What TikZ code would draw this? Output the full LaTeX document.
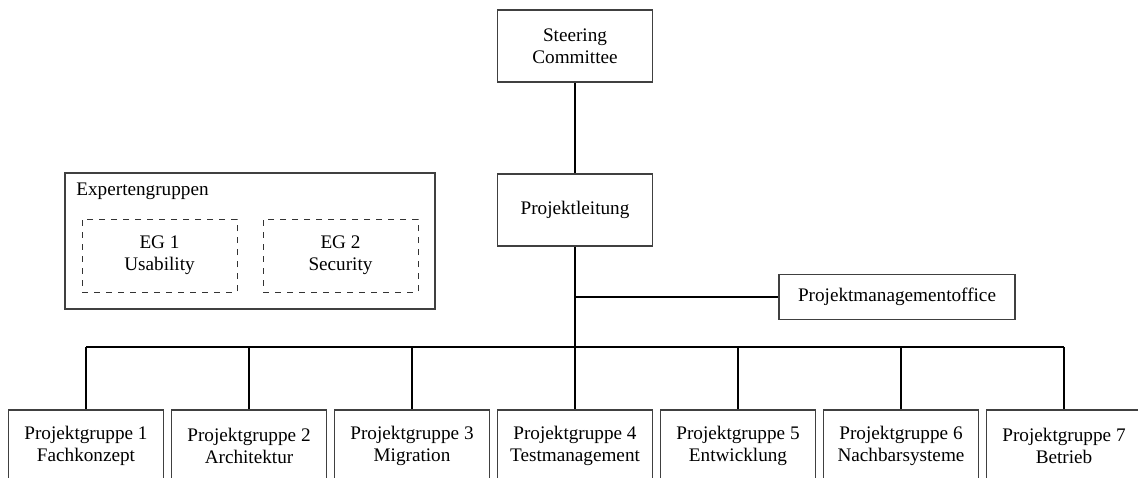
\documentclass[tikz,border=0pt]{standalone}
\usepackage{fontspec}
\setmainfont{Liberation Serif}
\usepackage{tikz}

\begin{document}
\begin{tikzpicture}[x=0.5pt,y=-0.5pt,
    box/.style={draw=black!75,line width=0.6pt,fill=white,align=center,inner sep=0pt,
      font=\fontsize{9.6}{11}\selectfont},
    egbox/.style={box,dashed,draw=black!80,line width=0.5pt},
    thin/.style={line width=0.6pt},
    thick/.style={line width=1.1pt}]
					\useasboundingbox (0,0) rectangle (1138,477);
					% top of the chart
					\path (575,46) node[box,minimum width=155*0.5pt,minimum height=72*0.5pt] (sc) {Steering\\Committee};
					\path (575,210) node[box,minimum width=155*0.5pt,minimum height=72*0.5pt] (pl) {Projektleitung};
					\path (897,297) node[box,minimum width=236*0.5pt,minimum height=45*0.5pt] (pmo) {Projektmanagementoffice};
					% expert groups
					\draw[box] (65,173) rectangle (435,309);
					\path (76,191) node[anchor=west,font=\fontsize{9.6}{11}\selectfont,inner sep=0pt] (eg) {Expertengruppen};
					\path (159.5,255.5) node[egbox,minimum width=155*0.5pt,minimum height=73*0.5pt] (eg1) {EG 1\\Usability};
					\path (340.5,255.5) node[egbox,minimum width=155*0.5pt,minimum height=73*0.5pt] (eg2) {EG 2\\Security};
					% project groups
					\foreach \i/\t in {1/Fachkonzept,2/Architektur,3/Migration,4/Testmanagement,5/Entwicklung,6/Nachbarsysteme,7/Betrieb}
						\path (86+163*\i-163,446) node[box,minimum width=155*0.5pt,minimum height=72*0.5pt] (pg\i) {Projektgruppe \i\\\t};
					\coordinate (pmojoin) at (575,297);
					\coordinate (bus) at (575,347);
					% connectors
					\draw[thin] (sc) -- (pl);
					\draw[thick] (pl) -- (pg4);
					\draw[thin] (pmojoin) -- (pmo);
					\draw[thick] (pg1.north |- bus) -- (pg7.north |- bus);
					\foreach \i in {1,2,3,5,6,7}
						\draw[thin] (pg\i.north |- bus) -- (pg\i);
					\end{tikzpicture}
\end{document}
